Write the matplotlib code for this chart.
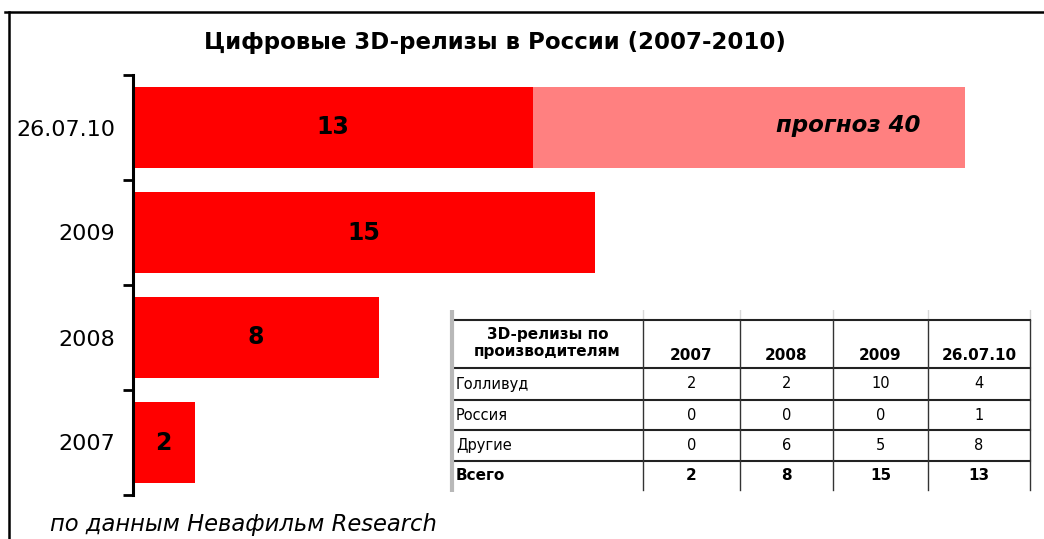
import matplotlib
matplotlib.use("Agg")
import matplotlib.pyplot as plt
from matplotlib.lines import Line2D

# ---- data ----
categories = ["2007", "2008", "2009", "26.07.10"]
totals = [2, 8, 15, 13]
forecast_label = "прогноз 40"
forecast_bar_end = 27          # drawn (truncated) extent of forecast bar
title = "Цифровые 3D-релизы в России (2007-2010)"
source = "по данным Невафильм Research"

table_header = ["3D-релизы по\nпроизводителям", "2007", "2008", "2009", "26.07.10"]
producers = ["Голливуд", "Россия", "Другие"]
hollywood = [2, 2, 10, 4]
russia = [0, 0, 0, 1]
others = [0, 6, 5, 8]
total_label = "Всего"

W, H = 1044, 539
fig = plt.figure(figsize=(W / 100, H / 100), dpi=100)

def fx(px):
    return px / W

def fy(py):
    return 1 - py / H

# outer frame (top and left edges visible)
fig.add_artist(Line2D([fx(5), fx(1044)], [fy(12), fy(12)], color="black", lw=1.8))
fig.add_artist(Line2D([fx(9), fx(9)], [fy(12), fy(539)], color="black", lw=1.8))

# ---- bar chart ----
left, right, top, bottom = 133, 1000, 75, 495
ax = fig.add_axes([fx(left), fy(bottom), fx(right) - fx(left), fy(top) - fy(bottom)])
ypos = list(range(len(categories)))
pxu = (595 - 133) / 15.0
ax.set_xlim(0, (right - left) / pxu)
ax.set_ylim(-0.5, len(categories) - 0.5)

bh = 0.77
last = len(categories) - 1
ax.barh(ypos[last], forecast_bar_end - totals[last], left=totals[last], height=bh,
        color="#FF8080", edgecolor="none")
ax.barh(ypos, totals, height=bh, color="#FF0000", edgecolor="none")

for y, v in zip(ypos, totals):
    ax.text(v / 2, y, str(v), ha="center", va="center", fontsize=17,
            fontweight="bold", color="black")
ax.text(forecast_bar_end - 1.45, ypos[last] + 0.02, forecast_label, ha="right", va="center",
        fontsize=16.5, fontweight="bold", fontstyle="italic", color="black")

for s in ["top", "right", "bottom"]:
    ax.spines[s].set_visible(False)
ax.spines["left"].set_linewidth(2.2)
ax.set_xticks([])
ax.set_yticks(ypos)
ax.set_yticklabels(categories, fontsize=16)
ax.tick_params(axis="y", which="major", length=0, pad=13)
ax.set_yticks([y - 0.5 for y in ypos] + [ypos[-1] + 0.5], minor=True)
ax.tick_params(axis="y", which="minor", length=7, width=2)

fig.text(fx(495), fy(43), title, ha="center", va="center", fontsize=16.5,
         fontweight="bold")
fig.text(fx(50), fy(524), source, ha="left", va="center", fontsize=16.3,
         fontstyle="italic")

# ---- table inset ----
tx0, tx1, ty0, ty1 = 446, 1034, 310, 492
tax = fig.add_axes([fx(tx0), fy(ty1), fx(tx1) - fx(tx0), fy(ty0) - fy(ty1)])
tax.set_xlim(tx0, tx1)
tax.set_ylim(ty1, ty0)
tax.axis("off")

cols = [452, 643, 740, 833, 928, 1030]
rows = [320, 368, 400, 430, 461, 490]

for c in cols[1:]:
    tax.plot([c, c], [310, rows[0]], color="#d8d8d8", lw=1)
for r in rows[:-1]:
    tax.plot([cols[0], cols[-1]], [r, r], color="#222222", lw=1.5)
for c in cols[1:]:
    tax.plot([c, c], [rows[0], rows[-1]], color="#333333", lw=1)
tax.plot([cols[0], cols[0]], [310, rows[-1]], color="#b8b8b8", lw=3)

tfs = 10.5
hfs = 11
tax.text((cols[0] + cols[1]) / 2, (rows[0] + rows[1]) / 2 - 1, table_header[0],
         ha="center", va="center", fontsize=hfs, fontweight="bold", linespacing=1.15)
for j, h in enumerate(table_header[1:]):
    tax.text((cols[j + 1] + cols[j + 2]) / 2, rows[1] - 13, h, ha="center",
             va="center", fontsize=hfs, fontweight="bold")

body = [hollywood, russia, others]
for i, (name, vals) in enumerate(zip(producers, body)):
    yc = (rows[i + 1] + rows[i + 2]) / 2
    tax.text(cols[0] + 4, yc, name, ha="left", va="center", fontsize=tfs)
    for j, v in enumerate(vals):
        tax.text((cols[j + 1] + cols[j + 2]) / 2, yc, str(v), ha="center",
                 va="center", fontsize=tfs)
yc = (rows[4] + rows[5]) / 2
tax.text(cols[0] + 4, yc, total_label, ha="left", va="center", fontsize=hfs,
         fontweight="bold")
for j in range(len(hollywood)):
    tot = hollywood[j] + russia[j] + others[j]
    tax.text((cols[j + 1] + cols[j + 2]) / 2, yc, str(tot), ha="center",
             va="center", fontsize=hfs, fontweight="bold")

fig.savefig("out.png", dpi=100)
